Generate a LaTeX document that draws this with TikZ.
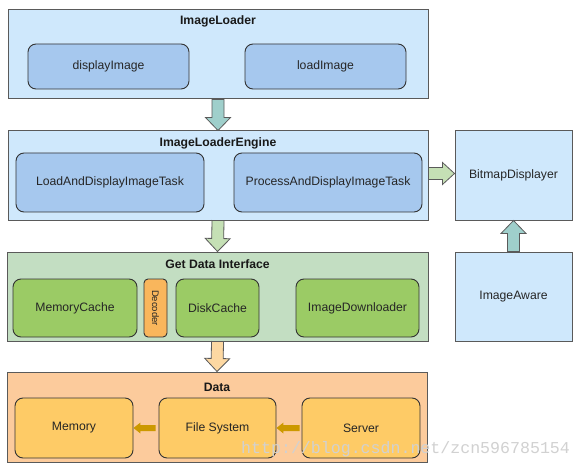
\documentclass[tikz,border=0pt]{standalone}
\usepackage{fontspec}
\setmainfont{Liberation Sans}
\newfontfamily\wmfont{Liberation Mono}
\usetikzlibrary{calc}
\definecolor{outblue}{HTML}{CFE8FC}
\definecolor{inblue}{HTML}{A6C8EE}
\definecolor{outgreen}{HTML}{C3DEC2}
\definecolor{ingreen}{HTML}{9BCB65}
\definecolor{decor}{HTML}{F9B65C}
\definecolor{outorange}{HTML}{FCCB9C}
\definecolor{inyellow}{HTML}{FECB66}
\definecolor{arrteal}{HTML}{9FCFCB}
\definecolor{arrgreen}{HTML}{C5E0B5}
\definecolor{arrorange}{HTML}{FDD8A2}
\definecolor{arrgold}{HTML}{CC9900}
\definecolor{bordout}{HTML}{5A5A5A}
\definecolor{bordin}{HTML}{333333}
\tikzset{
  txt/.style={font=\fontsize{12.2}{14}\selectfont, text=black!85},
  outerbox/.style={draw=bordout, line width=1pt, inner sep=0pt, txt},
  innerbox/.style={draw=bordin, line width=0.9pt, rounded corners=8pt, inner sep=0pt, txt},
  titletxt/.style={font=\fontsize{12.2}{14}\selectfont\bfseries, text=black!90, inner sep=0pt},
  bigarrow/.style={draw=bordout, line width=0.8pt, line join=miter},
  smallarrow/.style={fill=arrgold, draw=none}
}
\newcommand\blockarrow[6]{%
  \coordinate (ba-c) at ($(#3)!#6!(#2)$);
  \filldraw[#1] ($(#2)!#4!90:(#3)$) -- ($(ba-c)!#4!90:(#3)$) -- ($(ba-c)!#5!90:(#3)$) -- (#3)
    -- ($(ba-c)!#5!-90:(#3)$) -- ($(ba-c)!#4!-90:(#3)$) -- ($(#2)!#4!-90:(#3)$) -- cycle;}
\begin{document}
\begin{tikzpicture}[x=1pt,y=-1pt]
\useasboundingbox[fill=white] (0,0) rectangle (580,470);

% ImageLoader
\node[outerbox, fill=outblue, minimum width=420pt, minimum height=89pt] (loader) at (218,54.5) {};
\node[titletxt] (loadert) at (218,21.5) {ImageLoader};
\node[innerbox, fill=inblue, minimum width=161pt, minimum height=45pt] (display) at (108.5,66.5) {displayImage};
\node[innerbox, fill=inblue, minimum width=161pt, minimum height=45pt] (load) at (325.5,66.5) {loadImage};

% ImageLoaderEngine
\node[outerbox, fill=outblue, minimum width=420pt, minimum height=89pt] (engine) at (218,175.5) {};
\node[titletxt] (enginet) at (218,143.5) {ImageLoaderEngine};
\node[innerbox, fill=inblue, minimum width=188pt, minimum height=59pt] (ladit) at (110,182.5) {LoadAndDisplayImageTask};
\node[innerbox, fill=inblue, minimum width=188pt, minimum height=59pt] (padit) at (328,182.5) {ProcessAndDisplayImageTask};

% BitmapDisplayer / ImageAware
\node[outerbox, fill=outblue, minimum width=117pt, minimum height=89pt] (bitmap) at (513.5,175.5) {BitmapDisplayer};
\node[outerbox, fill=outblue, minimum width=117pt, minimum height=89pt] (aware) at (513.5,296.5) {ImageAware};

% Get Data Interface
\node[outerbox, fill=outgreen, minimum width=421pt, minimum height=89pt] (getdata) at (217.5,296.5) {};
\node[titletxt] (getdatat) at (217.5,264.5) {Get Data Interface};
\node[innerbox, fill=ingreen, minimum width=124pt, minimum height=58pt] (memcache) at (75,308) {MemoryCache};
\node[innerbox, fill=decor, rounded corners=4pt, minimum width=23pt, minimum height=58pt] (decoder) at (155.5,308) {};
\node[rotate=-90, font=\fontsize{9.5}{10}\selectfont, text=black!85, inner sep=0pt] (decodert) at (decoder.center) {Decoder};
\node[innerbox, fill=ingreen, minimum width=83pt, minimum height=58pt] (diskcache) at (217.5,308) {DiskCache};
\node[innerbox, fill=ingreen, minimum width=123pt, minimum height=58pt] (downloader) at (357.5,308) {ImageDownloader};

% Data
\node[outerbox, fill=outorange, minimum width=420pt, minimum height=90pt] (data) at (217,417) {};
\node[titletxt] (datat) at (217,387.5) {Data};
\node[innerbox, fill=inyellow, minimum width=118pt, minimum height=60pt] (memory) at (74,428) {Memory};
\node[innerbox, fill=inyellow, minimum width=117pt, minimum height=60pt] (fs) at (217.5,428) {File System};
\node[innerbox, fill=inyellow, minimum width=118pt, minimum height=60pt] (server) at (361,428) {Server};

% big arrows
\blockarrow{bigarrow, fill=arrteal}{loader.south}{engine.north}{6pt}{12.5pt}{13pt}
\blockarrow{bigarrow, fill=arrgreen}{engine.south}{getdata.north}{6pt}{12.5pt}{13pt}
\blockarrow{bigarrow, fill=arrorange}{getdata.south}{data.north}{6pt}{12.5pt}{13pt}
\coordinate (a4s) at ([yshift=2pt]engine.east);
\coordinate (a4e) at (a4s -| bitmap.west);
\blockarrow{bigarrow, fill=arrgreen}{a4s}{a4e}{6pt}{11pt}{12pt}
\blockarrow{bigarrow, fill=arrteal}{aware.north}{bitmap.south}{6pt}{12.5pt}{13pt}

% small arrows
\coordinate (g1s) at ([xshift=-3pt]fs.west);
\blockarrow{smallarrow}{g1s}{memory.east}{3pt}{5.5pt}{7pt}
\coordinate (g2s) at ([xshift=-2pt]server.west);
\blockarrow{smallarrow}{g2s}{fs.east}{3pt}{5.5pt}{7pt}

% watermark
\node[font=\wmfont\fontsize{16.6}{18}\selectfont, text=black!18, inner sep=0pt, anchor=west] (wm) at (241,449) {http://blog.csdn.net/zcn596785154};
\end{tikzpicture}
\end{document}
